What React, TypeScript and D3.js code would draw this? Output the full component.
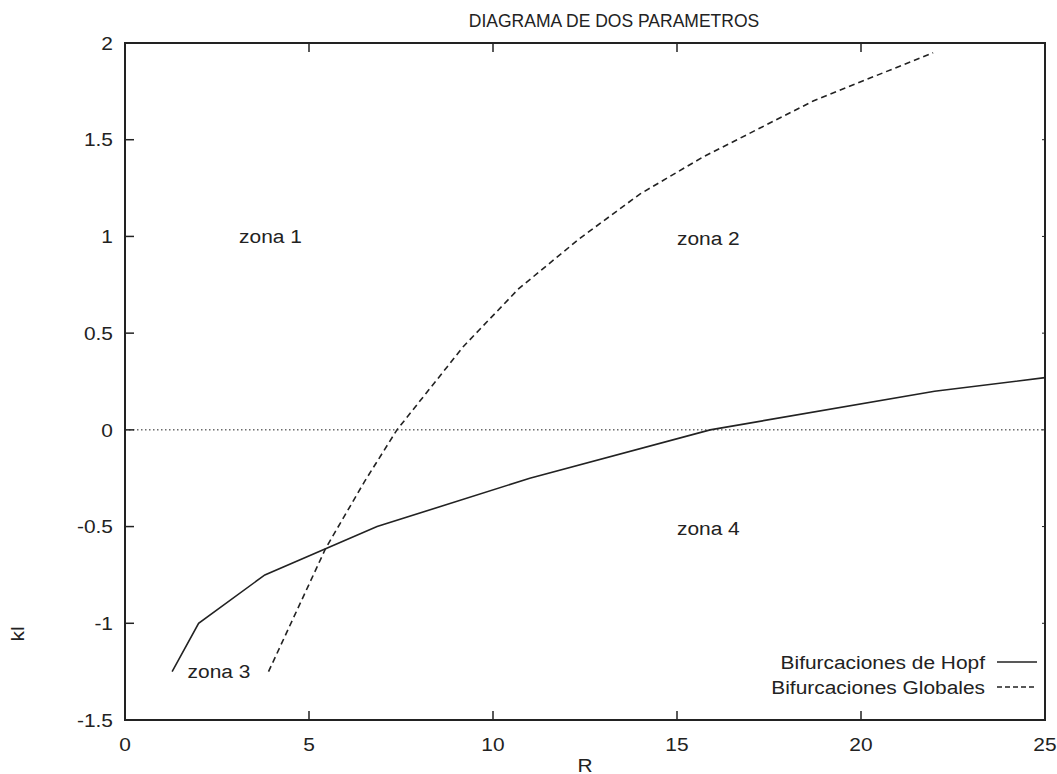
import React from 'react'
import { scaleLinear, line } from 'd3'

const width = 1057
const height = 774
const margin = { top: 43, right: 12, bottom: 54, left: 125 }
const innerWidth = width - margin.left - margin.right
const innerHeight = height - margin.top - margin.bottom

const xTicks = [0, 5, 10, 15, 20, 25]
const yTicks = [-1.5, -1, -0.5, 0, 0.5, 1, 1.5, 2]

// Bifurcaciones de Hopf (solid)
const hopfR = [1.28, 2.0, 3.8, 6.85, 11.0, 15.9, 22.0, 25.0]
const hopfK = [-1.25, -1.0, -0.75, -0.5, -0.25, 0, 0.2, 0.27]

// Bifurcaciones Globales (dashed)
const globR = [3.9, 5.46, 6.5, 7.39, 8.48, 9.19, 10.7, 12.36, 14.0, 15.7, 18.7, 21.96]
const globK = [-1.25, -0.61, -0.27, 0, 0.26, 0.43, 0.73, 0.99, 1.22, 1.41, 1.7, 1.95]

const zonas = [
  { label: 'zona 1', r: 3.1, k: 1.0 },
  { label: 'zona 2', r: 15.0, k: 0.99 },
  { label: 'zona 3', r: 1.7, k: -1.25 },
  { label: 'zona 4', r: 15.0, k: -0.51 },
]

const ink = '#222'
const font = '"Liberation Sans", Arial, Helvetica, sans-serif'

const x = scaleLinear().domain([0, 25]).range([0, innerWidth])
const y = scaleLinear().domain([-1.5, 2]).range([innerHeight, 0])

const pathGen = line<[number, number]>()
  .x(d => x(d[0]))
  .y(d => y(d[1]))

// text slightly stretched horizontally, like the scanned original
function T({ x, y, anchor = 'start', size = 19, children }: any) {
  return (
    <text transform={`translate(${x},${y}) scale(1.1,1)`} dy=".35em" textAnchor={anchor} fontSize={size} fill={ink}>
      {children}
    </text>
  )
}

export default function App() {
  const hopf = hopfR.map((r, i) => [r, hopfK[i]] as [number, number])
  const glob = globR.map((r, i) => [r, globK[i]] as [number, number])
  const tick = 9

  return (
    <svg width={width} height={height} style={{ position: 'absolute', left: 0, top: 0 }} fontFamily={font}>
      <rect width={width} height={height} fill="#fff" />
      <text x={614} y={27} textAnchor="middle" fontSize={17.5} fill={ink}>DIAGRAMA DE DOS PARAMETROS</text>
      <g transform={`translate(${margin.left},${margin.top})`}>
        {/* zero line */}
        <line x1={0} x2={innerWidth} y1={y(0)} y2={y(0)} stroke={ink} strokeWidth={1} strokeDasharray="1.5,2.5" />

        {/* ticks */}
        {yTicks.map(t => (
          <g key={'y' + t}>
            <line x1={0} x2={tick} y1={y(t)} y2={y(t)} stroke={ink} strokeWidth={1.5} />
            <line x1={innerWidth} x2={innerWidth - 3} y1={y(t)} y2={y(t)} stroke={ink} strokeWidth={1} />
            <T x={-12} y={y(t)} anchor="end">{t}</T>
          </g>
        ))}
        {xTicks.map(t => (
          <g key={'x' + t}>
            <line x1={x(t)} x2={x(t)} y1={innerHeight} y2={innerHeight - tick} stroke={ink} strokeWidth={1.5} />
            <line x1={x(t)} x2={x(t)} y1={0} y2={tick} stroke={ink} strokeWidth={1.5} />
            <T x={x(t)} y={innerHeight + 24} anchor="middle">{t}</T>
          </g>
        ))}

        {/* frame */}
        <rect x={0} y={0} width={innerWidth} height={innerHeight} fill="none" stroke={ink} strokeWidth={2} />

        {/* curves */}
        <path d={pathGen(hopf) ?? ''} fill="none" stroke={ink} strokeWidth={1.6} />
        <path d={pathGen(glob) ?? ''} fill="none" stroke={ink} strokeWidth={1.6} strokeDasharray="6,4" />

        {zonas.map(z => (
          <T key={z.label} x={x(z.r)} y={y(z.k)}>{z.label}</T>
        ))}

        {/* legend */}
        <g transform={`translate(${innerWidth - 8},${innerHeight - 58})`}>
          <T x={-52} y={0} anchor="end">Bifurcaciones de Hopf</T>
          <line x1={-40} x2={0} y1={0} y2={0} stroke={ink} strokeWidth={1.6} />
          <T x={-52} y={25} anchor="end">Bifurcaciones Globales</T>
          <line x1={-40} x2={0} y1={25} y2={25} stroke={ink} strokeWidth={1.4} strokeDasharray="5,3" />
        </g>
      </g>
      <T x={585} y={765} anchor="middle">R</T>
      <text transform="translate(24,634) rotate(-90) scale(1.1,1)" textAnchor="middle" fontSize={19} fill={ink}>kl</text>
    </svg>
  )
}
